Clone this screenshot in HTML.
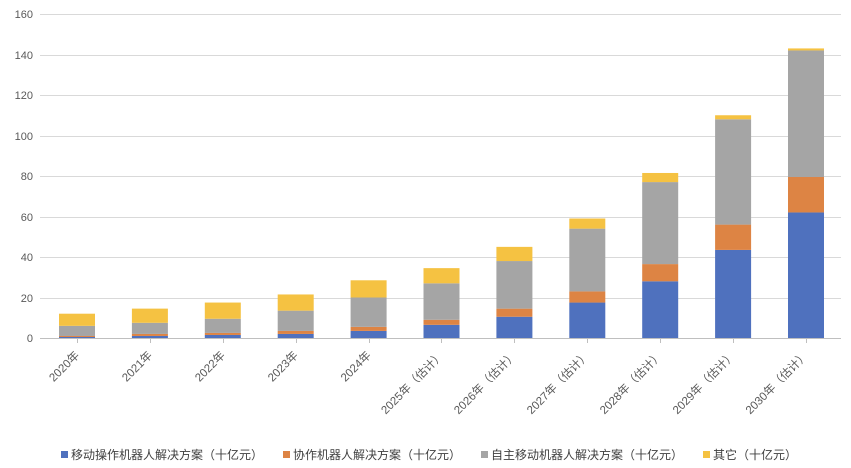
<!DOCTYPE html><html><head><meta charset="utf-8"><style>body{margin:0;background:#fff}svg{display:block;font-family:"Liberation Sans","Noto Sans CJK SC",sans-serif}</style></head><body>
<svg width="851" height="468" xmlns="http://www.w3.org/2000/svg">
<g stroke="#d9d9d9" stroke-width="1">
<line x1="40" x2="841" y1="14.5" y2="14.5"/><line x1="40" x2="841" y1="55.5" y2="55.5"/><line x1="40" x2="841" y1="95.5" y2="95.5"/><line x1="40" x2="841" y1="136.5" y2="136.5"/><line x1="40" x2="841" y1="176.5" y2="176.5"/><line x1="40" x2="841" y1="217.5" y2="217.5"/><line x1="40" x2="841" y1="257.5" y2="257.5"/><line x1="40" x2="841" y1="298.5" y2="298.5"/>
</g>
<g font-size="11" fill="#595959" text-anchor="end">
<text x="33" y="18">160</text><text x="33" y="59">140</text><text x="33" y="99">120</text><text x="33" y="140">100</text><text x="33" y="180">80</text><text x="33" y="221">60</text><text x="33" y="261">40</text><text x="33" y="302">20</text><text x="33" y="342">0</text>
</g>
<g>
<g transform="translate(59,0)"><rect y="336.99" width="36" height="1.01" fill="#4f71be"/><rect y="335.98" width="36" height="1.01" fill="#dd8444"/><rect y="325.85" width="36" height="10.13" fill="#a5a5a5"/><rect y="313.7" width="36" height="12.15" fill="#f5c242"/></g>
<g transform="translate(131.9,0)"><rect y="335.97" width="36" height="2.03" fill="#4f71be"/><rect y="333.94" width="36" height="2.03" fill="#dd8444"/><rect y="322.8" width="36" height="11.14" fill="#a5a5a5"/><rect y="308.62" width="36" height="14.18" fill="#f5c242"/></g>
<g transform="translate(204.8,0)"><rect y="334.96" width="36" height="3.04" fill="#4f71be"/><rect y="332.93" width="36" height="2.03" fill="#dd8444"/><rect y="318.75" width="36" height="14.18" fill="#a5a5a5"/><rect y="302.55" width="36" height="16.2" fill="#f5c242"/></g>
<g transform="translate(277.7,0)"><rect y="333.95" width="36" height="4.05" fill="#4f71be"/><rect y="330.91" width="36" height="3.04" fill="#dd8444"/><rect y="310.66" width="36" height="20.25" fill="#a5a5a5"/><rect y="294.46" width="36" height="16.2" fill="#f5c242"/></g>
<g transform="translate(350.6,0)"><rect y="330.91" width="36" height="7.09" fill="#4f71be"/><rect y="326.86" width="36" height="4.05" fill="#dd8444"/><rect y="297.5" width="36" height="29.36" fill="#a5a5a5"/><rect y="280.29" width="36" height="17.21" fill="#f5c242"/></g>
<g transform="translate(423.5,0)"><rect y="324.84" width="36" height="13.16" fill="#4f71be"/><rect y="319.78" width="36" height="5.06" fill="#dd8444"/><rect y="283.33" width="36" height="36.45" fill="#a5a5a5"/><rect y="268.14" width="36" height="15.19" fill="#f5c242"/></g>
<g transform="translate(496.4,0)"><rect y="316.74" width="36" height="21.26" fill="#4f71be"/><rect y="308.64" width="36" height="8.1" fill="#dd8444"/><rect y="261.05" width="36" height="47.59" fill="#a5a5a5"/><rect y="246.87" width="36" height="14.18" fill="#f5c242"/></g>
<g transform="translate(569.3,0)"><rect y="302.56" width="36" height="35.44" fill="#4f71be"/><rect y="291.42" width="36" height="11.14" fill="#dd8444"/><rect y="228.64" width="36" height="62.78" fill="#a5a5a5"/><rect y="218.51" width="36" height="10.13" fill="#f5c242"/></g>
<g transform="translate(642.2,0)"><rect y="281.3" width="36" height="56.7" fill="#4f71be"/><rect y="264.09" width="36" height="17.21" fill="#dd8444"/><rect y="182.08" width="36" height="82.01" fill="#a5a5a5"/><rect y="172.97" width="36" height="9.11" fill="#f5c242"/></g>
<g transform="translate(715.1,0)"><rect y="249.91" width="36" height="88.09" fill="#4f71be"/><rect y="224.6" width="36" height="25.31" fill="#dd8444"/><rect y="119.3" width="36" height="105.3" fill="#a5a5a5"/><rect y="115.25" width="36" height="4.05" fill="#f5c242"/></g>
<g transform="translate(788,0)"><rect y="212.45" width="36" height="125.55" fill="#4f71be"/><rect y="177.01" width="36" height="35.44" fill="#dd8444"/><rect y="50.45" width="36" height="126.56" fill="#a5a5a5"/><rect y="48.42" width="36" height="2.03" fill="#f5c242"/></g>
</g>
<line x1="40" x2="841" y1="338.5" y2="338.5" stroke="#bfbfbf"/>
<g stroke="#bfbfbf"><line x1="77.5" x2="77.5" y1="338" y2="343"/><line x1="150.5" x2="150.5" y1="338" y2="343"/><line x1="223.5" x2="223.5" y1="338" y2="343"/><line x1="296.5" x2="296.5" y1="338" y2="343"/><line x1="369.5" x2="369.5" y1="338" y2="343"/><line x1="441.5" x2="441.5" y1="338" y2="343"/><line x1="514.5" x2="514.5" y1="338" y2="343"/><line x1="587.5" x2="587.5" y1="338" y2="343"/><line x1="660.5" x2="660.5" y1="338" y2="343"/><line x1="733.5" x2="733.5" y1="338" y2="343"/><line x1="806.5" x2="806.5" y1="338" y2="343"/></g>
<g font-size="11.5" fill="#595959" text-anchor="end">
<text transform="translate(80,356) rotate(-45)">2020年</text>
<text transform="translate(152.9,356) rotate(-45)">2021年</text>
<text transform="translate(225.8,356) rotate(-45)">2022年</text>
<text transform="translate(298.7,356) rotate(-45)">2023年</text>
<text transform="translate(371.6,356) rotate(-45)">2024年</text>
<text transform="translate(444.5,356) rotate(-45)">2025年（估计）</text>
<text transform="translate(517.4,356) rotate(-45)">2026年（估计）</text>
<text transform="translate(590.3,356) rotate(-45)">2027年（估计）</text>
<text transform="translate(663.2,356) rotate(-45)">2028年（估计）</text>
<text transform="translate(736.1,356) rotate(-45)">2029年（估计）</text>
<text transform="translate(809,356) rotate(-45)">2030年（估计）</text>
</g>
<g font-size="12" fill="#404040">
<rect x="61" y="451" width="7" height="7" fill="#4f71be"/><text x="71" y="459">移动操作机器人解决方案（十亿元）</text>
<rect x="283" y="451" width="7" height="7" fill="#dd8444"/><text x="293" y="459">协作机器人解决方案（十亿元）</text>
<rect x="481" y="451" width="7" height="7" fill="#a5a5a5"/><text x="491" y="459">自主移动机器人解决方案（十亿元）</text>
<rect x="703" y="451" width="7" height="7" fill="#f5c242"/><text x="713" y="459">其它（十亿元）</text>
</g>
</svg></body></html>
